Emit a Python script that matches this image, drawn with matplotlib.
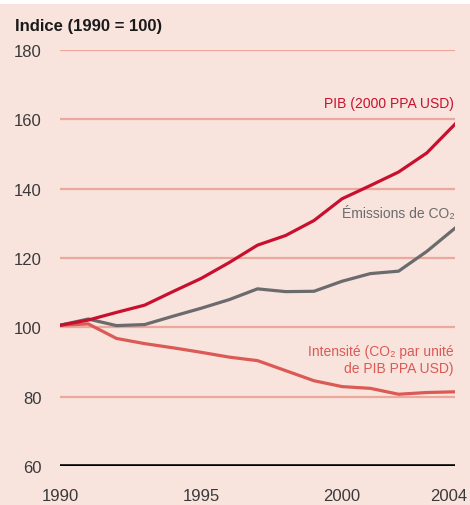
import matplotlib
matplotlib.use("Agg")
import matplotlib.pyplot as plt
from matplotlib.patches import Rectangle
from matplotlib.transforms import ScaledTranslation

# --- data ---
years = list(range(1990, 2005))
pib = [100.6, 102.1, 104.3, 106.4, 110.3, 114.1, 118.7, 123.7, 126.5, 130.8,
       137.1, 140.9, 144.8, 150.3, 158.6]
emissions = [100.6, 102.4, 100.5, 100.8, 103.2, 105.5, 108.0, 111.1, 110.3, 110.4,
             113.3, 115.5, 116.2, 121.9, 128.6]
intensite = [100.6, 101.0, 96.8, 95.3, 94.1, 92.8, 91.4, 90.4, 87.5, 84.6,
             82.9, 82.4, 80.7, 81.2, 81.4]

yticks = [60, 80, 100, 120, 140, 160, 180]
xticks = [1990, 1995, 2000, 2004]

# --- colours ---
bg = "#F8E3DD"
grid_col = "#EAA99A"
c_pib = "#C8102E"
c_em = "#6B6B6D"
c_int = "#DB5A55"
txt = "#3A3A3A"

plt.rcParams["font.family"] = ["Liberation Sans Narrow", "Liberation Sans", "DejaVu Sans"]

fig = plt.figure(figsize=(4.70, 5.06), dpi=100)
fig.patch.set_facecolor("white")
fig.patches.append(Rectangle((0, 0), 1, 1 - 5 / 506, transform=fig.transFigure,
                             facecolor=bg, edgecolor="none", zorder=-10))

ax = fig.add_axes([60 / 470, 39 / 506, 395 / 470, 416 / 506])
ax.set_facecolor("none")

for y in yticks[1:]:
    ax.axhline(y, xmin=0, xmax=1, color=grid_col, lw=1.6, zorder=1)
ax.axhline(60, color="black", lw=2.6, zorder=3)

ax.plot(years, intensite, color=c_int, lw=2.3, zorder=4)
ax.plot(years, emissions, color=c_em, lw=2.3, zorder=5)
ax.plot(years, pib, color=c_pib, lw=2.3, zorder=6)

ax.set_xlim(1990, 2004)
ax.set_ylim(60, 180)
ax.set_yticks(yticks)
ax.set_xticks(xticks)
ax.tick_params(length=0, labelsize=12, colors=txt)
ax.tick_params(axis="y", pad=13)
ax.tick_params(axis="x", pad=16)
for s in ax.spines.values():
    s.set_visible(False)

# last year label is pulled in so it stays inside the figure
last = ax.get_xticklabels()[-1]
last.set_horizontalalignment("right")
last.set_transform(last.get_transform() + ScaledTranslation(12 / 100, 0, fig.dpi_scale_trans))

fig.text(15 / 470, 1 - 26 / 506, "Indice (1990 = 100)", fontsize=12,
         fontweight="bold", color="#1A1A1A", va="center", ha="left")

ax.text(2003.95, 164.8, "PIB (2000 PPA USD)", color=c_pib, fontsize=10,
        ha="right", va="center")
ax.text(2004, 133.0, "Émissions de CO\u2082", color=c_em, fontsize=10,
        ha="right", va="center")
ax.text(2003.95, 90.8, "Intensité (CO\u2082 par unité\nde PIB PPA USD)", color=c_int,
        fontsize=10, ha="right", va="center", multialignment="right",
        linespacing=1.25)

fig.savefig("out.png", dpi=100, facecolor=fig.get_facecolor())
